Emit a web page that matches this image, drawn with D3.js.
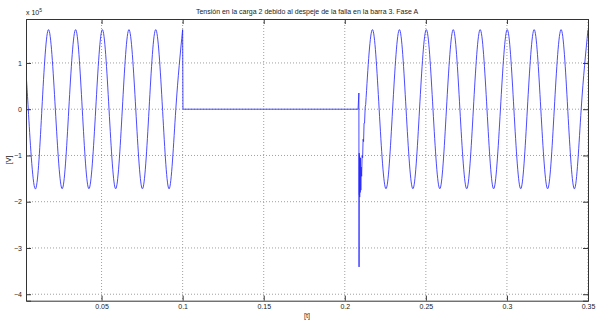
<!DOCTYPE html>
<html>
<head>
<meta charset="utf-8">
<script src="https://cdn.jsdelivr.net/npm/d3@7"></script>
<style>
	body { margin: 0; background: #fff; }
	text { font-family: "Liberation Sans", Arial, sans-serif; fill: #222; }
</style>
</head>
<body>
<div id="container"></div>
<script>
var width = 602, height = 325;
var margin = ({top: 19, right: 14, bottom: 24.3, left: 26});

// time [s] and voltage [x 10^5 V]
var xTicks = [0.05, 0.1, 0.15, 0.2, 0.25, 0.3, 0.35];
var yTicks = [-4, -3, -2, -1, 0, 1];
var xLimits = [0.0034, 0.35];
var yLimits = [-4.14, 1.95];

// before the fault clearing (smooth wave)
var waveBefore = [
	[0.0034, 0.78], [0.0048, 0], [0.0090, -1.72], [0.0132, 0], [0.0173, 1.72],
	[0.0215, 0], [0.0257, -1.72], [0.0298, 0], [0.0340, 1.72], [0.0381, 0],
	[0.0422, -1.72], [0.0464, 0], [0.0505, 1.72], [0.0546, 0], [0.0587, -1.72],
	[0.0628, 0], [0.0669, 1.72], [0.0711, 0], [0.0752, -1.72], [0.0793, 0],
	[0.0834, 1.72], [0.0876, 0], [0.0917, -1.72], [0.0958, 0], [0.1000, 1.72]
];

// open breaker, then reclosing transient
var openAndSpike = [
	[0.1000, 1.72], [0.1002, 0], [0.2082, 0], [0.2087, 0.35], [0.2088, -3.41],
	[0.2089, -0.95], [0.2090, -1.85], [0.2091, -1.0], [0.2092, -1.9], [0.2093, -1.1],
	[0.2095, -1.8], [0.2097, -1.05], [0.2099, -1.75], [0.2101, -1.25], [0.2104, -1.45],
	[0.2107, -1.0], [0.2110, -1.05], [0.2113, -0.65], [0.2116, -0.7], [0.2119, -0.3],
	[0.2122, -0.3], [0.2126, 0.05], [0.2129, 0.1]
];

// after reclosing (smooth wave)
var waveAfter = [
	[0.2129, 0.1], [0.2171, 1.72], [0.2212, 0], [0.2254, -1.72], [0.2295, 0],
	[0.2337, 1.72], [0.2378, 0], [0.2420, -1.72], [0.2461, 0], [0.2503, 1.72],
	[0.2544, 0], [0.2586, -1.72], [0.2627, 0], [0.2669, 1.72], [0.2710, 0],
	[0.2752, -1.72], [0.2793, 0], [0.2835, 1.72], [0.2877, 0], [0.2918, -1.72],
	[0.2960, 0], [0.3002, 1.72], [0.3043, 0], [0.3085, -1.72], [0.3126, 0],
	[0.3168, 1.72], [0.3209, 0], [0.3251, -1.72], [0.3292, 0], [0.3334, 1.72],
	[0.3375, 0], [0.3417, -1.72], [0.3458, 0], [0.3500, 1.72]
];

var svg = d3.select('div#container')
	.append('svg')
	.attr('width', width)
	.attr('height', height);

var x = d3.scaleLinear()
	.domain(xLimits)
	.range([margin.left, width - margin.right]);
var y = d3.scaleLinear()
	.domain(yLimits)
	.range([height - margin.bottom, margin.top]);

var plotW = width - margin.left - margin.right;
var plotH = height - margin.top - margin.bottom;

svg.append('clipPath')
	.attr('id', 'clip')
	.append('rect')
	.attr('x', margin.left)
	.attr('y', margin.top)
	.attr('width', plotW)
	.attr('height', plotH);

// dotted grid
svg.append('g')
	.selectAll('line')
	.data(xTicks)
	.join('line')
	.attr('x1', d => x(d)).attr('x2', d => x(d))
	.attr('y1', margin.top).attr('y2', height - margin.bottom)
	.attr('stroke', '#a0a0a0')
	.attr('stroke-dasharray', '1,2');
svg.append('g')
	.selectAll('line')
	.data(yTicks)
	.join('line')
	.attr('x1', margin.left).attr('x2', width - margin.right)
	.attr('y1', d => y(d)).attr('y2', d => y(d))
	.attr('stroke', '#a0a0a0')
	.attr('stroke-dasharray', '1,2');

// curves
var smooth = d3.line()
	.x(d => x(d[0]))
	.y(d => y(d[1]))
	.curve(d3.curveNatural);
var straight = d3.line()
	.x(d => x(d[0]))
	.y(d => y(d[1]));

var curves = svg.append('g').attr('clip-path', 'url(#clip)');
curves.append('path').attr('d', smooth(waveBefore));
curves.append('path').attr('d', straight(openAndSpike));
curves.append('path').attr('d', smooth(waveAfter));
curves.selectAll('path')
	.attr('fill', 'none')
	.attr('stroke', '#2a2aff')
	.attr('stroke-width', 0.85);

// axes with inward ticks on all four sides
var tick = 5;
svg.append('g')
	.attr('transform', 'translate(0,' + (height - margin.bottom) + ')')
	.call(d3.axisBottom(x).tickValues(xTicks).tickSize(-tick).tickPadding(3)
		.tickFormat(d3.format('~g')));
svg.append('g')
	.attr('transform', 'translate(0,' + margin.top + ')')
	.call(d3.axisTop(x).tickValues(xTicks).tickSize(-tick).tickFormat(''));
svg.append('g')
	.attr('transform', 'translate(' + margin.left + ',0)')
	.call(d3.axisLeft(y).tickValues(yTicks).tickSize(-tick).tickPadding(4)
		.tickFormat(d3.format('d')));
svg.append('g')
	.attr('transform', 'translate(' + (width - margin.right) + ',0)')
	.call(d3.axisRight(y).tickValues(yTicks).tickSize(-tick).tickFormat(''));

svg.selectAll('.domain')
	.attr('stroke', '#333')
	.attr('stroke-width', 1);
svg.selectAll('.tick line')
	.attr('stroke', '#333');
svg.selectAll('.tick text')
	.attr('font-size', '7px')
	.attr('font-family', '"Liberation Sans", Arial, sans-serif')
	.attr('fill', '#222');

// labels
svg.append('text')
	.attr('x', margin.left + plotW / 2)
	.attr('y', 13.5)
	.attr('text-anchor', 'middle')
	.attr('font-size', '7px')
	.text('Tensión en la carga 2 debido al despeje de la falla en la barra 3. Fase A');

svg.append('text')
	.attr('x', margin.left + plotW / 2)
	.attr('y', 318)
	.attr('text-anchor', 'middle')
	.attr('font-size', '7px')
	.text('[t]');

svg.append('text')
	.attr('transform', 'translate(11,' + (margin.top + plotH / 2) + ') rotate(-90)')
	.attr('text-anchor', 'middle')
	.attr('font-size', '7px')
	.text('[V]');

var exp = svg.append('text')
	.attr('x', margin.left)
	.attr('y', 15)
	.attr('font-size', '7px');
exp.append('tspan').text('x 10');
exp.append('tspan')
	.attr('dy', -3.5)
	.attr('font-size', '5px')
	.text('5');
</script>
</body>
</html>
